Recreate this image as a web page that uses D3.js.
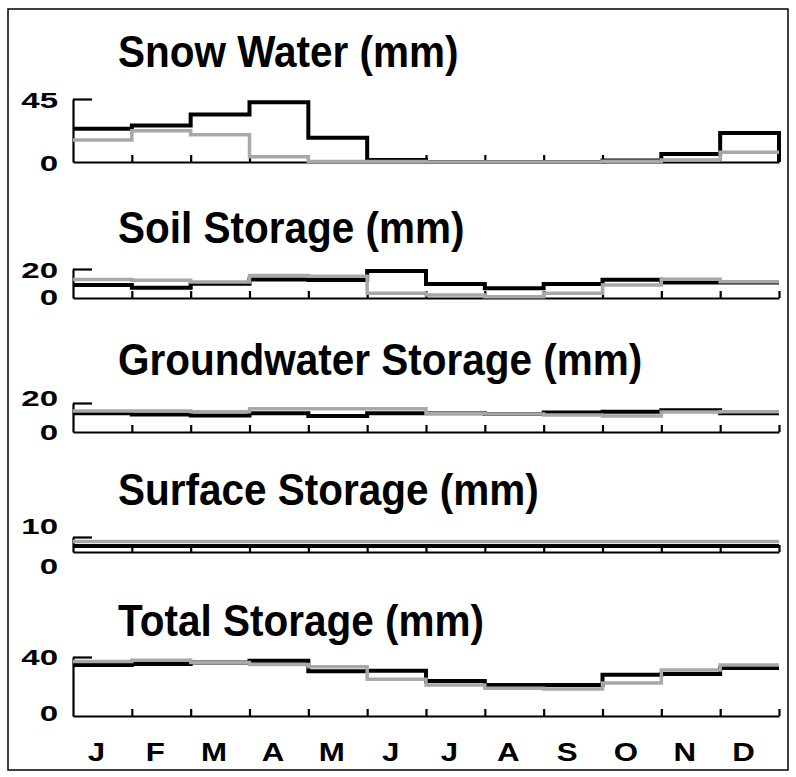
<!DOCTYPE html>
<html>
<head>
<meta charset="utf-8">
<script src="https://cdn.jsdelivr.net/npm/d3@7"></script>
<style>
  body { margin: 0; background: #fff; }
  svg { display: block; font-family: "Liberation Sans", Arial, sans-serif; }
</style>
</head>
<body>
<div id="chart"></div>
<script>
// months
const monthKeys = ["Jan", "Feb", "Mar", "Apr", "May", "Jun", "Jul", "Aug", "Sep", "Oct", "Nov", "Dec"];
const monthLabels = ["J", "F", "M", "A", "M", "J", "J", "A", "S", "O", "N", "D"];

// black (heavy) series and gray (stippled) series, mm
const snowBlack = [23.7, 26, 34, 42.6, 17.3, 1.5, 0, 0, 0, 1, 5.7, 20.7];
const snowGray = [15.7, 22.4, 19.5, 3.8, 0.4, 0.3, 0, 0, 0, 0.5, 1.5, 7];
const soilBlack = [9, 7, 9.9, 12.8, 12.5, 18.6, 9.7, 6.7, 9.7, 12.6, 10.7, 10.7];
const soilGray = [12.8, 12.2, 11, 15.5, 15, 3.2, 2, 0.9, 3.2, 9, 13, 11.2];
const groundBlack = [13, 12, 11.4, 13, 11, 13, 13, 12.4, 13.4, 14, 15, 13];
const groundGray = [14.5, 14.5, 14, 16, 16, 16, 13, 12.4, 11.7, 11, 13.8, 14];
const surfaceBlack = [4, 4, 4, 4, 4, 4, 4, 4, 4, 4, 4, 4];
const surfaceGray = [7, 7, 7, 7, 7, 7, 7, 7, 7, 7, 7, 7];
const totalBlack = [34.6, 35.2, 36.3, 37.5, 30.3, 30.6, 23.7, 21, 21, 28, 28.5, 32.5];
const totalGray = [37, 37.8, 36.3, 35, 33.4, 25, 21, 18.8, 18.3, 22.4, 31.2, 34.6];

// panel titles and axis maxima
const titles = ["Snow Water (mm)", "Soil Storage (mm)", "Groundwater Storage (mm)", "Surface Storage (mm)", "Total Storage (mm)"];
const axisMax = [45, 20, 20, 10, 40];

const width = 796, height = 777;

// pixel layout of each panel (top of axis, baseline, title baseline, label nudges)
const panels = [
  { black: snowBlack, gray: snowGray, top: 99, base: 162, titleY: 67, dTop: 1, dBase: 1, dropEnd: true },
  { black: soilBlack, gray: soilGray, top: 269, base: 298, titleY: 243, dTop: 1, dBase: -1 },
  { black: groundBlack, gray: groundGray, top: 403, base: 432, titleY: 375, dTop: -5, dBase: 0 },
  { black: surfaceBlack, gray: surfaceGray, top: 537, base: 552, titleY: 505, dTop: -11, dBase: 14 },
  { black: totalBlack, gray: totalGray, top: 657, base: 716, titleY: 636, dTop: 0, dBase: -3 }
];

const svg = d3.select("#chart").append("svg")
  .attr("width", width)
  .attr("height", height);

svg.append("rect")
  .attr("x", 8).attr("y", 9)
  .attr("width", 780).attr("height", 761)
  .attr("fill", "none")
  .attr("stroke", "#000")
  .attr("stroke-width", 1.5);

const x = d3.scaleBand().domain(monthKeys).range([73, 779]).padding(0);
const xEnd = x.range()[1];
const bounds = monthKeys.slice(1).map(k => x(k)).concat([xEnd]);

panels.forEach((p, i) => {
  const y = d3.scaleLinear().domain([0, axisMax[i]]).range([p.base, p.top]);
  const g = svg.append("g");

  // title
  g.append("text")
    .attr("transform", `translate(118,${p.titleY}) scale(0.9,1)`)
    .attr("font-size", 45)
    .attr("font-weight", "bold")
    .text(titles[i]);

  // month ticks along the baseline, pointing up
  const xl = d3.scaleLinear().domain([x.range()[0], xEnd]).range([x.range()[0], xEnd]);
  const bottom = g.append("g")
    .attr("transform", `translate(0,${p.base})`)
    .call(d3.axisBottom(xl).tickValues(bounds).tickSize(-7).tickSizeOuter(0).tickFormat(""));
  bottom.selectAll("path, line").attr("stroke", "#000").attr("stroke-width", 2.2);

  // y axis with single top tick pointing inward
  const left = g.append("g")
    .attr("transform", `translate(${x.range()[0]},0)`)
    .call(d3.axisLeft(y).tickValues([axisMax[i]]).tickSize(-19).tickSizeOuter(0).tickFormat(""));
  left.selectAll("path, line").attr("stroke", "#000").attr("stroke-width", 2.2);

  // y labels
  [[axisMax[i], p.dTop], [0, p.dBase]].forEach(([v, d]) => {
    g.append("text")
      .attr("transform", `translate(58,${y(v) + 8 + d}) scale(1.5,1)`)
      .attr("text-anchor", "end")
      .attr("font-size", 22)
      .attr("font-weight", "bold")
      .text(v);
  });

  const stepLine = d3.line()
    .x(d => d[0])
    .y(d => y(d[1]))
    .curve(d3.curveStepAfter);

  const pts = vals => {
    const a = monthKeys.map((k, j) => [x(k), vals[j]]);
    a.push([xEnd, vals[vals.length - 1]]);
    return a;
  };

  const blackPts = pts(p.black);
  if (p.dropEnd) blackPts.push([xEnd, 0]);

  g.append("path")
    .attr("d", stepLine(blackPts))
    .attr("fill", "none")
    .attr("stroke", "#000")
    .attr("stroke-width", 4);

  g.append("path")
    .attr("d", stepLine(pts(p.gray)))
    .attr("fill", "none")
    .attr("stroke", "#a8a8a8")
    .attr("stroke-width", 3.5);
});

// month letters under the last panel
svg.append("g").selectAll("text")
  .data(monthKeys)
  .enter()
  .append("text")
  .attr("transform", (k, j) => `translate(${x(k) + x.bandwidth() / 2 - 6},761) scale(1.25,1)`)
  .attr("text-anchor", "middle")
  .attr("font-size", 25)
  .attr("font-weight", "bold")
  .text((k, j) => monthLabels[j]);
</script>
</body>
</html>
